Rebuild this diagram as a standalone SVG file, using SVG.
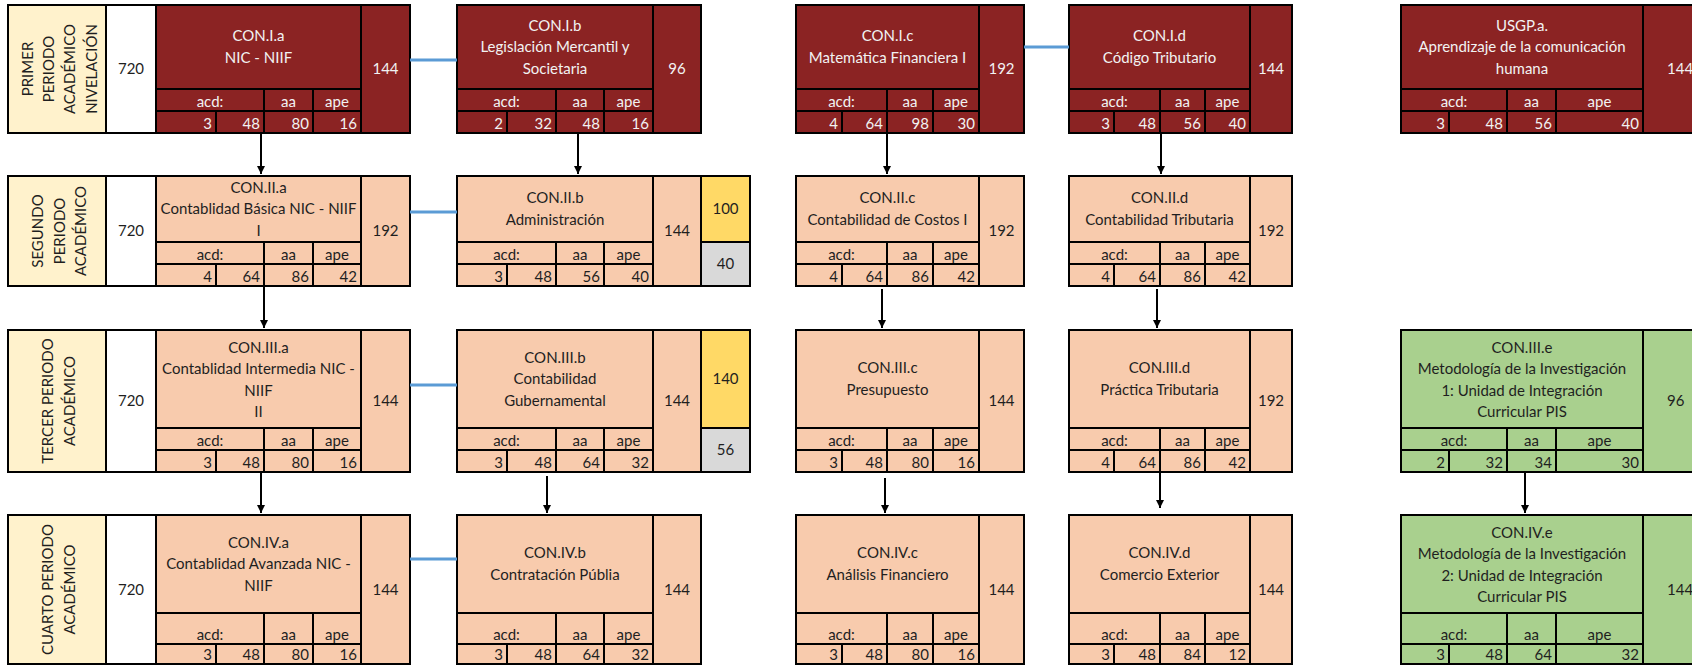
<svg xmlns="http://www.w3.org/2000/svg" width="1692" height="666" viewBox="0 0 1692 666">
<defs>
<marker id="ah" viewBox="0 0 10 10" refX="10" refY="5" markerWidth="8" markerHeight="8" markerUnits="userSpaceOnUse" orient="auto"><path d="M0,0 L10,5 L0,10 z" fill="#000"/></marker>
</defs>
<style>
.c{stroke:#000;stroke-width:2}
.red{fill:#8B2323}
.pch{fill:#F8CBAD}
.grn{fill:#A9D08E}
.yel{fill:#FFD966}
.gry{fill:#D9D9D9}
.bei{fill:#FFF2CC}
.wht{fill:#FFFFFF}
text{font-family:Lato,"Open Sans","Liberation Sans",sans-serif;font-size:15px;fill:#1F1F1F}
.dk text{fill:#F2F2F2}
.m{text-anchor:middle}
.r{text-anchor:end}
.blue{stroke:#5B9BD5;stroke-width:3;fill:none}
.arr{stroke:#000;stroke-width:2;fill:none;marker-end:url(#ah)}
</style>
<rect width="1692" height="666" fill="#fff"/>

<!-- Period labels -->
<g id="P1">
<rect class="c bei" x="8" y="5" width="98" height="128"/>
<rect class="c wht" x="106" y="5" width="50" height="128"/>
<text class="m" transform="translate(32.7,69) rotate(-90)">PRIMER</text>
<text class="m" transform="translate(54,69) rotate(-90)">PERIODO</text>
<text class="m" transform="translate(75.3,69) rotate(-90)">ACADÉMICO</text>
<text class="m" transform="translate(96.7,69) rotate(-90)">NIVELACIÓN</text>
<text class="m" x="131" y="74">720</text>
</g>
<g id="P2">
<rect class="c bei" x="8" y="176" width="98" height="110"/>
<rect class="c wht" x="106" y="176" width="50" height="110"/>
<text class="m" transform="translate(43.3,231) rotate(-90)">SEGUNDO</text>
<text class="m" transform="translate(64.5,231) rotate(-90)">PERIODO</text>
<text class="m" transform="translate(85.5,231) rotate(-90)">ACADÉMICO</text>
<text class="m" x="131" y="236">720</text>
</g>
<g id="P3">
<rect class="c bei" x="8" y="330" width="98" height="142"/>
<rect class="c wht" x="106" y="330" width="50" height="142"/>
<text class="m" transform="translate(53.3,401) rotate(-90)">TERCER PERIODO</text>
<text class="m" transform="translate(75,401) rotate(-90)">ACADÉMICO</text>
<text class="m" x="131" y="406">720</text>
</g>
<g id="P4">
<rect class="c bei" x="8" y="515" width="98" height="149"/>
<rect class="c wht" x="106" y="515" width="50" height="149"/>
<text class="m" transform="translate(53.3,589.5) rotate(-90)">CUARTO PERIODO</text>
<text class="m" transform="translate(75,589.5) rotate(-90)">ACADÉMICO</text>
<text class="m" x="131" y="594.5">720</text>
</g>

<!-- Row 1 -->
<g id="CON.I.a" class="dk">
<rect class="c red" x="156" y="5" width="205" height="84"/>
<rect class="c red" x="156" y="89" width="108" height="22"/><rect class="c red" x="264" y="89" width="49" height="22"/><rect class="c red" x="313" y="89" width="48" height="22"/>
<rect class="c red" x="156" y="111" width="60" height="22"/><rect class="c red" x="216" y="111" width="48" height="22"/><rect class="c red" x="264" y="111" width="49" height="22"/><rect class="c red" x="313" y="111" width="48" height="22"/>
<rect class="c red" x="361" y="5" width="49" height="128"/>
<text class="m" x="258.5" y="41.25">CON.I.a</text><text class="m" x="258.5" y="62.75">NIC - NIIF</text>
<text class="m" x="210" y="107">acd:</text><text class="m" x="288.5" y="107">aa</text><text class="m" x="337" y="107">ape</text>
<text class="r" x="212" y="129">3</text><text class="r" x="260" y="129">48</text><text class="r" x="309" y="129">80</text><text class="r" x="357" y="129">16</text>
<text class="m" x="385.5" y="74">144</text>
</g>
<g id="CON.I.b" class="dk">
<rect class="c red" x="457" y="5" width="196" height="84"/>
<rect class="c red" x="457" y="89" width="99" height="22"/><rect class="c red" x="556" y="89" width="48" height="22"/><rect class="c red" x="604" y="89" width="49" height="22"/>
<rect class="c red" x="457" y="111" width="50" height="22"/><rect class="c red" x="507" y="111" width="49" height="22"/><rect class="c red" x="556" y="111" width="48" height="22"/><rect class="c red" x="604" y="111" width="49" height="22"/>
<rect class="c red" x="653" y="5" width="48" height="128"/>
<text class="m" x="555" y="30.5">CON.I.b</text><text class="m" x="555" y="52">Legislación Mercantil y</text><text class="m" x="555" y="73.5">Societaria</text>
<text class="m" x="506.5" y="107">acd:</text><text class="m" x="580" y="107">aa</text><text class="m" x="628.5" y="107">ape</text>
<text class="r" x="503" y="129">2</text><text class="r" x="552" y="129">32</text><text class="r" x="600" y="129">48</text><text class="r" x="649" y="129">16</text>
<text class="m" x="677" y="74">96</text>
</g>
<g id="CON.I.c" class="dk">
<rect class="c red" x="796" y="5" width="183" height="84"/>
<rect class="c red" x="796" y="89" width="91" height="22"/><rect class="c red" x="887" y="89" width="46" height="22"/><rect class="c red" x="933" y="89" width="46" height="22"/>
<rect class="c red" x="796" y="111" width="46" height="22"/><rect class="c red" x="842" y="111" width="45" height="22"/><rect class="c red" x="887" y="111" width="46" height="22"/><rect class="c red" x="933" y="111" width="46" height="22"/>
<rect class="c red" x="979" y="5" width="45" height="128"/>
<text class="m" x="887.5" y="41.25">CON.I.c</text><text class="m" x="887.5" y="62.75">Matemática Financiera I</text>
<text class="m" x="841.5" y="107">acd:</text><text class="m" x="910" y="107">aa</text><text class="m" x="956" y="107">ape</text>
<text class="r" x="838" y="129">4</text><text class="r" x="883" y="129">64</text><text class="r" x="929" y="129">98</text><text class="r" x="975" y="129">30</text>
<text class="m" x="1001.5" y="74">192</text>
</g>
<g id="CON.I.d" class="dk">
<rect class="c red" x="1069" y="5" width="181" height="84"/>
<rect class="c red" x="1069" y="89" width="91" height="22"/><rect class="c red" x="1160" y="89" width="45" height="22"/><rect class="c red" x="1205" y="89" width="45" height="22"/>
<rect class="c red" x="1069" y="111" width="45" height="22"/><rect class="c red" x="1114" y="111" width="46" height="22"/><rect class="c red" x="1160" y="111" width="45" height="22"/><rect class="c red" x="1205" y="111" width="45" height="22"/>
<rect class="c red" x="1250" y="5" width="42" height="128"/>
<text class="m" x="1159.5" y="41.25">CON.I.d</text><text class="m" x="1159.5" y="62.75">Código Tributario</text>
<text class="m" x="1114.5" y="107">acd:</text><text class="m" x="1182.5" y="107">aa</text><text class="m" x="1227.5" y="107">ape</text>
<text class="r" x="1110" y="129">3</text><text class="r" x="1156" y="129">48</text><text class="r" x="1201" y="129">56</text><text class="r" x="1246" y="129">40</text>
<text class="m" x="1271" y="74">144</text>
</g>
<g id="USGP.a" class="dk">
<rect class="c red" x="1401" y="5" width="242" height="84"/>
<rect class="c red" x="1401" y="89" width="106" height="22"/><rect class="c red" x="1507" y="89" width="49" height="22"/><rect class="c red" x="1556" y="89" width="87" height="22"/>
<rect class="c red" x="1401" y="111" width="48" height="22"/><rect class="c red" x="1449" y="111" width="58" height="22"/><rect class="c red" x="1507" y="111" width="49" height="22"/><rect class="c red" x="1556" y="111" width="87" height="22"/>
<rect class="c red" x="1643" y="5" width="77" height="128"/>
<text class="m" x="1522" y="30.5">USGP.a.</text><text class="m" x="1522" y="52">Aprendizaje de la comunicación</text><text class="m" x="1522" y="73.5">humana</text>
<text class="m" x="1454" y="107">acd:</text><text class="m" x="1531.5" y="107">aa</text><text class="m" x="1599.5" y="107">ape</text>
<text class="r" x="1445" y="129">3</text><text class="r" x="1503" y="129">48</text><text class="r" x="1552" y="129">56</text><text class="r" x="1639" y="129">40</text>
<text x="1667" y="74">144</text>
</g>

<!-- Row 2 -->
<g id="CON.II.a">
<rect class="c pch" x="156" y="176" width="205" height="66"/>
<rect class="c pch" x="156" y="242" width="108" height="22"/><rect class="c pch" x="264" y="242" width="49" height="22"/><rect class="c pch" x="313" y="242" width="48" height="22"/>
<rect class="c pch" x="156" y="264" width="60" height="22"/><rect class="c pch" x="216" y="264" width="48" height="22"/><rect class="c pch" x="264" y="264" width="49" height="22"/><rect class="c pch" x="313" y="264" width="48" height="22"/>
<rect class="c pch" x="361" y="176" width="49" height="110"/>
<text class="m" x="258.5" y="192.5">CON.II.a</text><text class="m" x="258.5" y="214">Contablidad Básica NIC - NIIF</text><text class="m" x="258.5" y="235.5">I</text>
<text class="m" x="210" y="260">acd:</text><text class="m" x="288.5" y="260">aa</text><text class="m" x="337" y="260">ape</text>
<text class="r" x="212" y="282">4</text><text class="r" x="260" y="282">64</text><text class="r" x="309" y="282">86</text><text class="r" x="357" y="282">42</text>
<text class="m" x="385.5" y="236">192</text>
</g>
<g id="CON.II.b">
<rect class="c pch" x="457" y="176" width="196" height="66"/>
<rect class="c pch" x="457" y="242" width="99" height="22"/><rect class="c pch" x="556" y="242" width="48" height="22"/><rect class="c pch" x="604" y="242" width="49" height="22"/>
<rect class="c pch" x="457" y="264" width="50" height="22"/><rect class="c pch" x="507" y="264" width="49" height="22"/><rect class="c pch" x="556" y="264" width="48" height="22"/><rect class="c pch" x="604" y="264" width="49" height="22"/>
<rect class="c pch" x="653" y="176" width="48" height="110"/>
<rect class="c yel" x="701" y="176" width="49" height="66"/>
<rect class="c gry" x="701" y="242" width="49" height="44"/>
<text class="m" x="555" y="203.25">CON.II.b</text><text class="m" x="555" y="224.75">Administración</text>
<text class="m" x="506.5" y="260">acd:</text><text class="m" x="580" y="260">aa</text><text class="m" x="628.5" y="260">ape</text>
<text class="r" x="503" y="282">3</text><text class="r" x="552" y="282">48</text><text class="r" x="600" y="282">56</text><text class="r" x="649" y="282">40</text>
<text class="m" x="677" y="236">144</text>
<text class="m" x="725.5" y="214">100</text>
<text class="m" x="725.5" y="269">40</text>
</g>
<g id="CON.II.c">
<rect class="c pch" x="796" y="176" width="183" height="66"/>
<rect class="c pch" x="796" y="242" width="91" height="22"/><rect class="c pch" x="887" y="242" width="46" height="22"/><rect class="c pch" x="933" y="242" width="46" height="22"/>
<rect class="c pch" x="796" y="264" width="46" height="22"/><rect class="c pch" x="842" y="264" width="45" height="22"/><rect class="c pch" x="887" y="264" width="46" height="22"/><rect class="c pch" x="933" y="264" width="46" height="22"/>
<rect class="c pch" x="979" y="176" width="45" height="110"/>
<text class="m" x="887.5" y="203.25">CON.II.c</text><text class="m" x="887.5" y="224.75">Contabilidad de Costos I</text>
<text class="m" x="841.5" y="260">acd:</text><text class="m" x="910" y="260">aa</text><text class="m" x="956" y="260">ape</text>
<text class="r" x="838" y="282">4</text><text class="r" x="883" y="282">64</text><text class="r" x="929" y="282">86</text><text class="r" x="975" y="282">42</text>
<text class="m" x="1001.5" y="236">192</text>
</g>
<g id="CON.II.d">
<rect class="c pch" x="1069" y="176" width="181" height="66"/>
<rect class="c pch" x="1069" y="242" width="91" height="22"/><rect class="c pch" x="1160" y="242" width="45" height="22"/><rect class="c pch" x="1205" y="242" width="45" height="22"/>
<rect class="c pch" x="1069" y="264" width="45" height="22"/><rect class="c pch" x="1114" y="264" width="46" height="22"/><rect class="c pch" x="1160" y="264" width="45" height="22"/><rect class="c pch" x="1205" y="264" width="45" height="22"/>
<rect class="c pch" x="1250" y="176" width="42" height="110"/>
<text class="m" x="1159.5" y="203.25">CON.II.d</text><text class="m" x="1159.5" y="224.75">Contabilidad Tributaria</text>
<text class="m" x="1114.5" y="260">acd:</text><text class="m" x="1182.5" y="260">aa</text><text class="m" x="1227.5" y="260">ape</text>
<text class="r" x="1110" y="282">4</text><text class="r" x="1156" y="282">64</text><text class="r" x="1201" y="282">86</text><text class="r" x="1246" y="282">42</text>
<text class="m" x="1271" y="236">192</text>
</g>

<!-- Row 3 -->
<g id="CON.III.a">
<rect class="c pch" x="156" y="330" width="205" height="98"/>
<rect class="c pch" x="156" y="428" width="108" height="22"/><rect class="c pch" x="264" y="428" width="49" height="22"/><rect class="c pch" x="313" y="428" width="48" height="22"/>
<rect class="c pch" x="156" y="450" width="60" height="22"/><rect class="c pch" x="216" y="450" width="48" height="22"/><rect class="c pch" x="264" y="450" width="49" height="22"/><rect class="c pch" x="313" y="450" width="48" height="22"/>
<rect class="c pch" x="361" y="330" width="49" height="142"/>
<text class="m" x="258.5" y="352.75">CON.III.a</text><text class="m" x="258.5" y="374.25">Contablidad Intermedia NIC -</text><text class="m" x="258.5" y="395.75">NIIF</text><text class="m" x="258.5" y="417.25">II</text>
<text class="m" x="210" y="446">acd:</text><text class="m" x="288.5" y="446">aa</text><text class="m" x="337" y="446">ape</text>
<text class="r" x="212" y="468">3</text><text class="r" x="260" y="468">48</text><text class="r" x="309" y="468">80</text><text class="r" x="357" y="468">16</text>
<text class="m" x="385.5" y="406">144</text>
</g>
<g id="CON.III.b">
<rect class="c pch" x="457" y="330" width="196" height="98"/>
<rect class="c pch" x="457" y="428" width="99" height="22"/><rect class="c pch" x="556" y="428" width="48" height="22"/><rect class="c pch" x="604" y="428" width="49" height="22"/>
<rect class="c pch" x="457" y="450" width="50" height="22"/><rect class="c pch" x="507" y="450" width="49" height="22"/><rect class="c pch" x="556" y="450" width="48" height="22"/><rect class="c pch" x="604" y="450" width="49" height="22"/>
<rect class="c pch" x="653" y="330" width="48" height="142"/>
<rect class="c yel" x="701" y="330" width="49" height="98"/>
<rect class="c gry" x="701" y="428" width="49" height="44"/>
<text class="m" x="555" y="362.5">CON.III.b</text><text class="m" x="555" y="384">Contabilidad</text><text class="m" x="555" y="405.5">Gubernamental</text>
<text class="m" x="506.5" y="446">acd:</text><text class="m" x="580" y="446">aa</text><text class="m" x="628.5" y="446">ape</text>
<text class="r" x="503" y="468">3</text><text class="r" x="552" y="468">48</text><text class="r" x="600" y="468">64</text><text class="r" x="649" y="468">32</text>
<text class="m" x="677" y="406">144</text>
<text class="m" x="725.5" y="384">140</text>
<text class="m" x="725.5" y="455">56</text>
</g>
<g id="CON.III.c">
<rect class="c pch" x="796" y="330" width="183" height="98"/>
<rect class="c pch" x="796" y="428" width="91" height="22"/><rect class="c pch" x="887" y="428" width="46" height="22"/><rect class="c pch" x="933" y="428" width="46" height="22"/>
<rect class="c pch" x="796" y="450" width="46" height="22"/><rect class="c pch" x="842" y="450" width="45" height="22"/><rect class="c pch" x="887" y="450" width="46" height="22"/><rect class="c pch" x="933" y="450" width="46" height="22"/>
<rect class="c pch" x="979" y="330" width="45" height="142"/>
<text class="m" x="887.5" y="373.25">CON.III.c</text><text class="m" x="887.5" y="394.75">Presupuesto</text>
<text class="m" x="841.5" y="446">acd:</text><text class="m" x="910" y="446">aa</text><text class="m" x="956" y="446">ape</text>
<text class="r" x="838" y="468">3</text><text class="r" x="883" y="468">48</text><text class="r" x="929" y="468">80</text><text class="r" x="975" y="468">16</text>
<text class="m" x="1001.5" y="406">144</text>
</g>
<g id="CON.III.d">
<rect class="c pch" x="1069" y="330" width="181" height="98"/>
<rect class="c pch" x="1069" y="428" width="91" height="22"/><rect class="c pch" x="1160" y="428" width="45" height="22"/><rect class="c pch" x="1205" y="428" width="45" height="22"/>
<rect class="c pch" x="1069" y="450" width="45" height="22"/><rect class="c pch" x="1114" y="450" width="46" height="22"/><rect class="c pch" x="1160" y="450" width="45" height="22"/><rect class="c pch" x="1205" y="450" width="45" height="22"/>
<rect class="c pch" x="1250" y="330" width="42" height="142"/>
<text class="m" x="1159.5" y="373.25">CON.III.d</text><text class="m" x="1159.5" y="394.75">Práctica Tributaria</text>
<text class="m" x="1114.5" y="446">acd:</text><text class="m" x="1182.5" y="446">aa</text><text class="m" x="1227.5" y="446">ape</text>
<text class="r" x="1110" y="468">4</text><text class="r" x="1156" y="468">64</text><text class="r" x="1201" y="468">86</text><text class="r" x="1246" y="468">42</text>
<text class="m" x="1271" y="406">192</text>
</g>
<g id="CON.III.e">
<rect class="c grn" x="1401" y="330" width="242" height="98"/>
<rect class="c grn" x="1401" y="428" width="106" height="22"/><rect class="c grn" x="1507" y="428" width="49" height="22"/><rect class="c grn" x="1556" y="428" width="87" height="22"/>
<rect class="c grn" x="1401" y="450" width="48" height="22"/><rect class="c grn" x="1449" y="450" width="58" height="22"/><rect class="c grn" x="1507" y="450" width="49" height="22"/><rect class="c grn" x="1556" y="450" width="87" height="22"/>
<rect class="c grn" x="1643" y="330" width="77" height="142"/>
<text class="m" x="1522" y="352.75">CON.III.e</text><text class="m" x="1522" y="374.25">Metodología de la Investigación</text><text class="m" x="1522" y="395.75">1: Unidad de Integración</text><text class="m" x="1522" y="417.25">Curricular PIS</text>
<text class="m" x="1454" y="446">acd:</text><text class="m" x="1531.5" y="446">aa</text><text class="m" x="1599.5" y="446">ape</text>
<text class="r" x="1445" y="468">2</text><text class="r" x="1503" y="468">32</text><text class="r" x="1552" y="468">34</text><text class="r" x="1639" y="468">30</text>
<text x="1667" y="406">96</text>
</g>

<!-- Row 4 -->
<g id="CON.IV.a">
<rect class="c pch" x="156" y="515" width="205" height="98"/>
<rect class="c pch" x="156" y="613" width="108" height="31"/><rect class="c pch" x="264" y="613" width="49" height="31"/><rect class="c pch" x="313" y="613" width="48" height="31"/>
<rect class="c pch" x="156" y="644" width="60" height="20"/><rect class="c pch" x="216" y="644" width="48" height="20"/><rect class="c pch" x="264" y="644" width="49" height="20"/><rect class="c pch" x="313" y="644" width="48" height="20"/>
<rect class="c pch" x="361" y="515" width="49" height="149"/>
<text class="m" x="258.5" y="547.5">CON.IV.a</text><text class="m" x="258.5" y="569">Contablidad Avanzada NIC -</text><text class="m" x="258.5" y="590.5">NIIF</text>
<text class="m" x="210" y="640">acd:</text><text class="m" x="288.5" y="640">aa</text><text class="m" x="337" y="640">ape</text>
<text class="r" x="212" y="660">3</text><text class="r" x="260" y="660">48</text><text class="r" x="309" y="660">80</text><text class="r" x="357" y="660">16</text>
<text class="m" x="385.5" y="594.5">144</text>
</g>
<g id="CON.IV.b">
<rect class="c pch" x="457" y="515" width="196" height="98"/>
<rect class="c pch" x="457" y="613" width="99" height="31"/><rect class="c pch" x="556" y="613" width="48" height="31"/><rect class="c pch" x="604" y="613" width="49" height="31"/>
<rect class="c pch" x="457" y="644" width="50" height="20"/><rect class="c pch" x="507" y="644" width="49" height="20"/><rect class="c pch" x="556" y="644" width="48" height="20"/><rect class="c pch" x="604" y="644" width="49" height="20"/>
<rect class="c pch" x="653" y="515" width="48" height="149"/>
<text class="m" x="555" y="558.25">CON.IV.b</text><text class="m" x="555" y="579.75">Contratación Públia</text>
<text class="m" x="506.5" y="640">acd:</text><text class="m" x="580" y="640">aa</text><text class="m" x="628.5" y="640">ape</text>
<text class="r" x="503" y="660">3</text><text class="r" x="552" y="660">48</text><text class="r" x="600" y="660">64</text><text class="r" x="649" y="660">32</text>
<text class="m" x="677" y="594.5">144</text>
</g>
<g id="CON.IV.c">
<rect class="c pch" x="796" y="515" width="183" height="98"/>
<rect class="c pch" x="796" y="613" width="91" height="31"/><rect class="c pch" x="887" y="613" width="46" height="31"/><rect class="c pch" x="933" y="613" width="46" height="31"/>
<rect class="c pch" x="796" y="644" width="46" height="20"/><rect class="c pch" x="842" y="644" width="45" height="20"/><rect class="c pch" x="887" y="644" width="46" height="20"/><rect class="c pch" x="933" y="644" width="46" height="20"/>
<rect class="c pch" x="979" y="515" width="45" height="149"/>
<text class="m" x="887.5" y="558.25">CON.IV.c</text><text class="m" x="887.5" y="579.75">Análisis Financiero</text>
<text class="m" x="841.5" y="640">acd:</text><text class="m" x="910" y="640">aa</text><text class="m" x="956" y="640">ape</text>
<text class="r" x="838" y="660">3</text><text class="r" x="883" y="660">48</text><text class="r" x="929" y="660">80</text><text class="r" x="975" y="660">16</text>
<text class="m" x="1001.5" y="594.5">144</text>
</g>
<g id="CON.IV.d">
<rect class="c pch" x="1069" y="515" width="181" height="98"/>
<rect class="c pch" x="1069" y="613" width="91" height="31"/><rect class="c pch" x="1160" y="613" width="45" height="31"/><rect class="c pch" x="1205" y="613" width="45" height="31"/>
<rect class="c pch" x="1069" y="644" width="45" height="20"/><rect class="c pch" x="1114" y="644" width="46" height="20"/><rect class="c pch" x="1160" y="644" width="45" height="20"/><rect class="c pch" x="1205" y="644" width="45" height="20"/>
<rect class="c pch" x="1250" y="515" width="42" height="149"/>
<text class="m" x="1159.5" y="558.25">CON.IV.d</text><text class="m" x="1159.5" y="579.75">Comercio Exterior</text>
<text class="m" x="1114.5" y="640">acd:</text><text class="m" x="1182.5" y="640">aa</text><text class="m" x="1227.5" y="640">ape</text>
<text class="r" x="1110" y="660">3</text><text class="r" x="1156" y="660">48</text><text class="r" x="1201" y="660">84</text><text class="r" x="1246" y="660">12</text>
<text class="m" x="1271" y="594.5">144</text>
</g>
<g id="CON.IV.e">
<rect class="c grn" x="1401" y="515" width="242" height="98"/>
<rect class="c grn" x="1401" y="613" width="106" height="31"/><rect class="c grn" x="1507" y="613" width="49" height="31"/><rect class="c grn" x="1556" y="613" width="87" height="31"/>
<rect class="c grn" x="1401" y="644" width="48" height="20"/><rect class="c grn" x="1449" y="644" width="58" height="20"/><rect class="c grn" x="1507" y="644" width="49" height="20"/><rect class="c grn" x="1556" y="644" width="87" height="20"/>
<rect class="c grn" x="1643" y="515" width="77" height="149"/>
<text class="m" x="1522" y="537.75">CON.IV.e</text><text class="m" x="1522" y="559.25">Metodología de la Investigación</text><text class="m" x="1522" y="580.75">2: Unidad de Integración</text><text class="m" x="1522" y="602.25">Curricular PIS</text>
<text class="m" x="1454" y="640">acd:</text><text class="m" x="1531.5" y="640">aa</text><text class="m" x="1599.5" y="640">ape</text>
<text class="r" x="1445" y="660">3</text><text class="r" x="1503" y="660">48</text><text class="r" x="1552" y="660">64</text><text class="r" x="1639" y="660">32</text>
<text x="1667" y="594.5">144</text>
</g>

<!-- Connectors -->
<g id="connectors">
<path class="blue" d="M410,60 H457"/>
<path class="blue" d="M1024,47 H1069"/>
<path class="blue" d="M410,212 H457"/>
<path class="blue" d="M410,385 H457"/>
<path class="blue" d="M410,559 H457"/>
<path class="arr" d="M261,133 V174"/>
<path class="arr" d="M578,133 V174"/>
<path class="arr" d="M887,133 V174"/>
<path class="arr" d="M1161,133 V174"/>
<path class="arr" d="M264,286 V328"/>
<path class="arr" d="M882,289 V328"/>
<path class="arr" d="M1157,289 V328"/>
<path class="arr" d="M261,472 V513"/>
<path class="arr" d="M547,476 V513"/>
<path class="arr" d="M885,478 V513"/>
<path class="arr" d="M1160,472 V508"/>
<path class="arr" d="M1525,472 V513"/>
</g>
</svg>
